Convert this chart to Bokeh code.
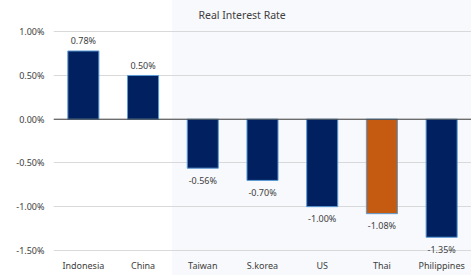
from bokeh.plotting import figure
from bokeh.models import ColumnDataSource, Range1d, Span, Title, PrintfTickFormatter, FixedTicker
from bokeh.embed import file_html
from bokeh.resources import INLINE
from bokeh.core.properties import value

countries = ["Indonesia", "China", "Taiwan", "S.korea", "US", "Thai", "Philippines"]
rates = [0.78, 0.50, -0.56, -0.70, -1.00, -1.08, -1.35]
labels = ["0.78%", "0.50%", "-0.56%", "-0.70%", "-1.00%", "-1.08%", "-1.35%"]
colors = ["#002060", "#002060", "#002060", "#002060", "#002060", "#C55A11", "#002060"]
y_ticks = [-1.5, -1.0, -0.5, 0.0, 0.5, 1.0]

FONT = "Noto Sans"
W, H = 471, 275
LEFT = 53
step = (W - LEFT) / len(countries)
shade_x = LEFT + 2 * step

src = ColumnDataSource(dict(
    x=countries, top=rates, label=labels, color=colors,
    ly=[r + (0.115 if r > 0 else -0.14) for r in rates],
))

p = figure(x_range=countries, y_range=Range1d(-1.57, 1.083), width=W, height=H,
           output_backend="svg", toolbar_location=None,
           min_border_left=LEFT, min_border_right=0, min_border_top=24, min_border_bottom=19)
p.title = Title(text="Real Interest Rate", align="left", offset=145, standoff=6,
                text_font=FONT, text_font_size="10.5px", text_font_style="normal",
                text_color="#404040")
p.outline_line_color = None
p.background_fill_color = None
p.border_fill_color = None
p.styles = {"background": f"linear-gradient(to right, #FFFFFF {shade_x:.1f}px, #F7F9FC {shade_x:.1f}px)"}

p.vbar(x="x", top="top", bottom=0, width=0.52, source=src, fill_color="color",
       line_color="#5B9BD5", line_width=1)
p.add_layout(Span(location=0, dimension="width", line_color="#404040", line_width=1))
p.text(x="x", y="ly", text="label", source=src, text_align="center", text_baseline="middle",
       text_font=value(FONT), text_font_size="9px", text_color="#404040")

p.xgrid.grid_line_color = None
p.ygrid.grid_line_color = "#D9D9D9"
p.ygrid.ticker = FixedTicker(ticks=y_ticks)
p.yaxis.ticker = FixedTicker(ticks=y_ticks)
p.yaxis.formatter = PrintfTickFormatter(format="%.2f%%")
for ax in (p.xaxis[0], p.yaxis[0]):
    ax.axis_line_color = None
    ax.major_tick_line_color = None
    ax.minor_tick_line_color = None
    ax.major_tick_out = 0
    ax.major_tick_in = 0
    ax.minor_tick_out = 0
    ax.major_label_text_font = FONT
    ax.major_label_text_font_size = "9px"
    ax.major_label_text_color = "#404040"
p.yaxis.major_label_standoff = 9
p.xaxis.major_label_standoff = 2

open("out.html", "w").write(file_html(p, INLINE))
